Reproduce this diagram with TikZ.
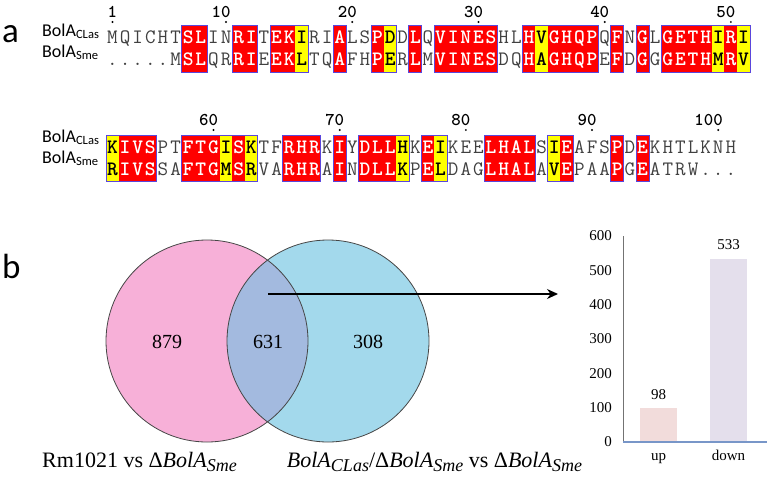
\documentclass[tikz,border=0pt]{standalone}
\usepackage{fontspec}
\setmainfont{Liberation Serif}
\newfontfamily\calib{Carlito}
\usetikzlibrary{arrows.meta}
\definecolor{espred}{RGB}{255,0,0}
\definecolor{espyel}{RGB}{255,255,0}
\definecolor{espframe}{RGB}{90,70,220}
\definecolor{vpink}{RGB}{247,176,216}
\definecolor{vblue}{RGB}{163,217,236}
\definecolor{vmix}{RGB}{163,186,223}
\definecolor{vline}{RGB}{70,70,70}
\definecolor{barup}{RGB}{242,220,219}
\definecolor{bardown}{RGB}{228,223,236}
\definecolor{xaxiscol}{RGB}{120,150,200}
\newcommand\seqfont{\ttfamily\fontsize{20.5}{20.5}\selectfont}
\newcommand\numfont{\ttfamily\bfseries\fontsize{18}{18}\selectfont}
\newcommand\sbs[1]{\raisebox{-0.2em}{\fontsize{18}{18}\selectfont\itshape #1}}
\newcommand\alnrow[5]{%
  \foreach \i/\a/\b/\c in {#5}{%
    \pgfmathsetmacro\xx{112.5+(\i-#1)*12.62}
    \path[bg \c] (\xx-6.45,#2) rectangle (\xx+6.45,#3);
    \node[res \c] (c\i) at (\xx,#4) {\a};
    \node[res \c] (s\i) at (\xx,#4+22) {\b};
  }}
\newcommand\alnframes[4]{%
  \foreach \p/\q in {#4}{%
    \draw[espframe, line width=0.9] ({112.5+(\p-#1)*12.62-6.45},#2) rectangle ({112.5+(\q-#1)*12.62+6.45},#3);
  }}
\begin{document}
\begin{tikzpicture}[x=1pt,y=-1pt,
  res n/.style={text=black!75, font=\seqfont, anchor=base, inner sep=0},
  res r/.style={text=white, font=\seqfont\bfseries, anchor=base, inner sep=0},
  res y/.style={text=black, font=\seqfont\bfseries, anchor=base, inner sep=0},
  bg n/.style={}, bg r/.style={fill=espred}, bg y/.style={fill=espyel},
  numlab/.style={font=\numfont, anchor=base east, inner sep=0},
  seqlab/.style={font=\calib\fontsize{18}{18}\selectfont, anchor=base west, inner sep=0},
  panel/.style={font=\calib\fontsize{35}{35}\selectfont, anchor=base west, inner sep=0},
  venncirc/.style={circle, draw=vline, line width=0.8, minimum size=202pt, inner sep=0},
  vnum/.style={font=\fontsize{20}{20}\selectfont},
  vlab/.style={font=\fontsize{22}{22}\selectfont, anchor=base, inner sep=0},
  tick/.style={font=\fontsize{15}{15}\selectfont, anchor=east, inner sep=0},
  barlab/.style={font=\fontsize{15}{15}\selectfont}
]
\useasboundingbox (0,0) rectangle (767,479);
% ---------- panel a ----------
\node[panel] (pa) at (2,42) {a};
\node[seqlab] (l1c) at (42,36) {BolA\textsubscript{CLas}};
\node[seqlab] (l1s) at (42,57) {BolA\textsubscript{Sme}};
\node[seqlab] (l2c) at (42,142) {BolA\textsubscript{CLas}};
\node[seqlab] (l2s) at (42,163) {BolA\textsubscript{Sme}};
\foreach \n in {1,10,20,30,40,50}{%
  \pgfmathsetmacro\xx{112.5+(\n-1)*12.62}
  \node[numlab] (num\n) at (\xx+4.7,17) {\n};
  \fill (\xx,22) circle (1.1);
}
\foreach \n in {60,70,80,90,100}{%
  \pgfmathsetmacro\xx{112.5+(\n-52)*12.62}
  \node[numlab] (num\n) at (\xx+4.7,125) {\n};
  \fill (\xx,130) circle (1.1);
}
\alnrow{1}{25.5}{72}{43.5}{1/M/./n,2/Q/./n,3/I/./n,4/C/./n,5/H/./n,6/T/M/n,7/S/S/r,8/L/L/r,9/I/Q/n,10/N/R/n,11/R/R/r,12/I/I/r,13/T/E/n,14/E/E/r,15/K/K/r,16/I/L/y,17/R/T/n,18/I/Q/n,19/A/A/r,20/L/F/n,21/S/H/n,22/P/P/r,23/D/E/y,24/D/R/n,25/L/L/r,26/Q/M/n,27/V/V/r,28/I/I/r,29/N/N/r,30/E/E/r,31/S/S/r,32/H/D/n,33/L/Q/n,34/H/H/r,35/V/A/y,36/G/G/r,37/H/H/r,38/Q/Q/r,39/P/P/r,40/Q/E/n,41/F/F/r,42/N/D/n,43/G/G/r,44/L/G/n,45/G/G/r,46/E/E/r,47/T/T/r,48/H/H/r,49/I/M/y,50/R/R/r,51/I/V/y}
\alnrow{52}{135}{181.5}{153}{52/K/R/y,53/I/I/r,54/V/V/r,55/S/S/r,56/P/S/n,57/T/A/n,58/F/F/r,59/T/T/r,60/G/G/r,61/I/M/y,62/S/S/r,63/K/R/y,64/T/V/n,65/F/A/n,66/R/R/r,67/H/H/r,68/R/R/r,69/K/A/n,70/I/I/r,71/Y/N/n,72/D/D/r,73/L/L/r,74/L/L/r,75/H/K/y,76/K/P/n,77/E/E/r,78/I/L/y,79/K/D/n,80/E/A/n,81/E/G/n,82/L/L/r,83/H/H/r,84/A/A/r,85/L/L/r,86/S/A/n,87/I/V/y,88/E/E/r,89/A/P/n,90/F/A/n,91/S/A/n,92/P/P/r,93/D/G/n,94/E/E/r,95/K/A/n,96/H/T/n,97/T/R/n,98/L/W/n,99/K/./n,100/N/./n,101/H/./n}
\alnframes{1}{25.5}{72}{7/8,11/12,14/16,19/19,22/23,25/25,27/31,34/39,41/41,43/43,45/51}
\alnframes{52}{135}{181.5}{52/55,58/63,66/68,70/70,72/75,77/78,82/85,87/88,92/92,94/94}
% ---------- panel b ----------
\node[panel] (pb) at (2,278) {b};
\fill[vpink] (207,341) circle (101);
\fill[vblue] (328,341) circle (101);
\begin{scope}
  \clip (207,341) circle (101);
  \fill[vmix] (328,341) circle (101);
\end{scope}
\node[venncirc] (setA) at (207,341) {};
\node[venncirc] (setB) at (328,341) {};
\node[vnum] (nA) at (167,342) {879};
\node[vnum] (nAB) at (268,342) {631};
\node[vnum] (nB) at (368,342) {308};
\node[vlab] (labA) at (139.5,467) {Rm1021 vs Δ\textit{BolA}\sbs{Sme}};
\node[vlab] (labB) at (434.5,467) {\textit{BolA}\sbs{CLas}/Δ\textit{BolA}\sbs{Sme} vs Δ\textit{BolA}\sbs{Sme}};
\coordinate (arrS) at (268,294);
\coordinate (arrE) at (558,294);
\draw[line width=1.4, -{Stealth[length=11pt,width=10pt]}] (arrS) -- (arrE);
% ---------- bar chart ----------
\fill[barup] (640,442) rectangle (677,408.4);
\fill[bardown] (710,442) rectangle (747,259);
\draw[black!55, line width=0.8] (623,236) -- (623,442);
\draw[xaxiscol, line width=1.1] (623,442) -- (767,442);
\foreach \v in {0,100,200,300,400,500,600}{%
  \node[tick] (t\v) at (612,{442-\v*0.3433}) {\v};
}
\node[barlab] (v98) at (658.5,395) {98};
\node[barlab] (v533) at (728.5,245) {533};
\node[barlab, anchor=base] (cup) at (658.5,460) {up};
\node[barlab, anchor=base] (cdown) at (728.5,460) {down};
\end{tikzpicture}
\end{document}
